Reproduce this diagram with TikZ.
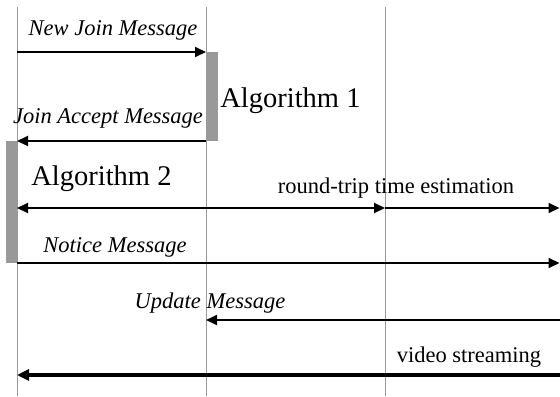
\documentclass[tikz,border=0pt]{standalone}
\usepackage{fontspec}
\setmainfont{Liberation Serif}
\usetikzlibrary{arrows.meta}

\begin{document}
\begin{tikzpicture}
        [%%%%%%%%%%%%%%%%%%%%%%%%%%%%%%
        x=0.5pt, y=-0.5pt,
        msghead/.tip={Triangle[length=5.5pt,width=5pt]},
        life/.style={draw=black!40, line width=0.5pt},
        act/.style={fill=black!40},
        msg/.style={line width=0.9pt, -msghead},
        stream/.style={line width=1.6pt, -{Triangle[length=6pt,width=5.5pt]}},
        lbl/.style={font=\fontsize{11.25}{13}\selectfont\itshape, anchor=base, inner sep=0pt},
        txt/.style={font=\fontsize{11.25}{13}\selectfont, anchor=base, inner sep=0pt},
        alg/.style={font=\fontsize{14.25}{17}\selectfont, anchor=base west, inner sep=0pt},
        ]%%%%%%%%%%%%%%%%%%%%%%%%%%%%%%
        \useasboundingbox (0,0) rectangle (560,396);
        % Points on every lifeline, one per message row
        \foreach \n/\x in {a/17,b/206,c/385,d/559.5}{
          \coordinate (\n top) at (\x,7);
          \coordinate (\n bot) at (\x,396);
          \foreach \r/\y in {join/52,accept/141,rtt/208,notice/263,update/320,video/375}{
            \coordinate (\n-\r) at (\x,\y);
          }
        }
        % Lifelines
        \foreach \n in {a,b,c}{
          \draw[life] (\n top) -- (\n bot);
        }
        % Activation bars
        \fill[act] (b-join) rectangle ([xshift=6pt]b-accept);
        \fill[act] ([xshift=-5.5pt]a-accept) rectangle (a-notice);
        % Messages
        \draw[msg] (a-join) -- (b-join);
        \draw[msg] (b-accept) -- (a-accept);
        \draw[msg, msghead-msghead] (a-rtt) -- (c-rtt);
        \draw[msg] (c-rtt) -- (d-rtt);
        \draw[msg] (a-notice) -- (d-notice);
        \draw[msg] (d-update) -- (b-update);
        \draw[stream] (d-video) -- (a-video);
        % Text
        \node[lbl] (newjoin) at (113,35) {New Join Message};
        \node[lbl] (joinacc) at (108,123) {Join Accept Message};
        \node[alg] (alg1) at (220,107) {Algorithm 1};
        \node[alg] (alg2) at (31,185) {Algorithm 2};
        \node[txt] (rttlbl) at (396,193) {round-trip time estimation};
        \node[lbl] (notice) at (115,252) {Notice Message};
        \node[lbl] (update) at (210,308) {Update Message};
        \node[txt] (videolbl) at (469,362) {video streaming};
      \end{tikzpicture}
\end{document}
